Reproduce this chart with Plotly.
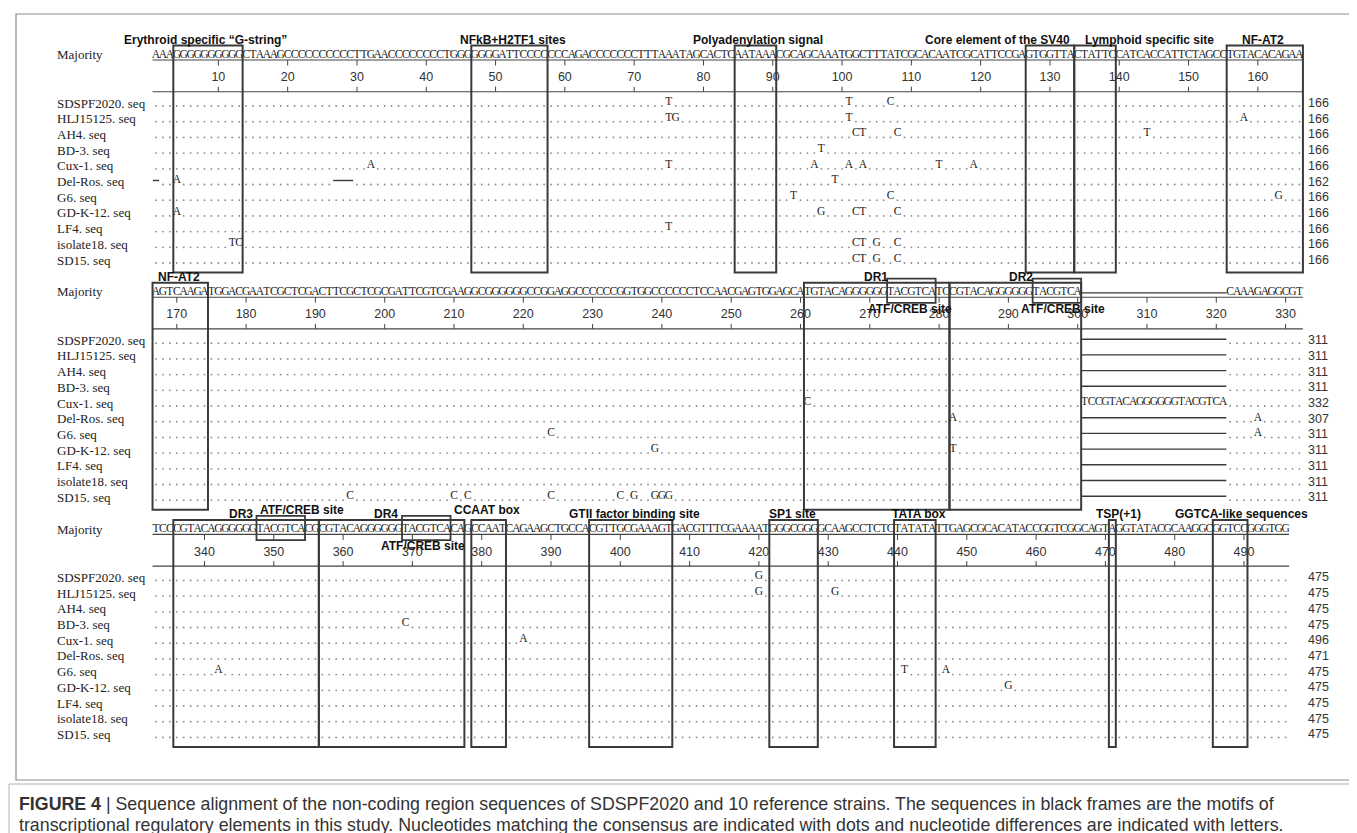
import plotly.graph_objects as go

# ---------------- data ----------------
strains = ["SDSPF2020", "HLJ15125", "AH4", "BD-3", "Cux-1", "Del-Ros", "G6",
           "GD-K-12", "LF4", "isolate18", "SD15"]
row_labels = [s + ". seq" for s in strains]

block_first = [1, 167, 333]

majority_block1 = ("AAA" "GGGGGGGGGG" "CTAAAG" "CCCCCCCCCC" "TTGAA" "CCCCCCCC" "T" "GGG"
                   "GGGGATTCCCC" "CCCAGACCCCCCCTTTAAATAGCACTC" "AATAAA"
                   "CGCAGCAAATGGCTTTATCGCACAATCGCATTCCGA" "GTGGTTA" "CTATTC"
                   "CATCACCATTCTAGCC" "TGTACACAGAA")
majority_block2 = ("AGTCAAGA" "TGGACGAATCGCTCGACTTCGCTCGCGATTCGTCGAAG"
                   "GCGGGGGGCCGGAGGCCCCCCGGTGGCCCCCCTCCAACGAGTGGAGC" "A"
                   "TGTACAGGGGGG" "TACGTCA" "TC" "CGTACAGGGGGG" "TACGTCA"
                   "---------------------" "CAAAGAGGCGT")
majority_block3 = ("TCC" "CGTACAGGGGGG" "TACGTCA" "CG" "CGTACAGGGGGG" "TACGTCA" "CAG"
                   "CCAAT" "CAGAAGCTGCCA" "CGTTGCGAAAGT" "GACGTTTCGAAAAT" "GGGCGGG"
                   "GCAAGCCTCTC" "TATATA" "TTGAGCGCACATACCGGTCGGCAGT" "A"
                   "GGTATACGCAAGGC" "GGTCC" "GGGTGG")
majority = [majority_block1, majority_block2, majority_block3]
assert [len(m) for m in majority] == [166, 166, 164]

tick_values = [[10, 20, 30, 40, 50, 60, 70, 80, 90, 100, 110, 120, 130, 140, 150, 160],
               [170, 180, 190, 200, 210, 220, 230, 240, 250, 260, 270, 280, 290, 300, 310, 320, 330],
               [340, 350, 360, 370, 380, 390, 400, 410, 420, 430, 440, 450, 460, 470, 480, 490]]

counts_block1 = [166, 166, 166, 166, 166, 162, 166, 166, 166, 166, 166]
counts_block2 = [311, 311, 311, 311, 332, 307, 311, 311, 311, 311, 311]
counts_block3 = [475, 475, 475, 475, 496, 471, 475, 475, 475, 475, 475]
counts = [counts_block1, counts_block2, counts_block3]

# (strain, position, base) differences from the consensus
variants = [
    ("SDSPF2020", 75, "T"), ("SDSPF2020", 101, "T"), ("SDSPF2020", 107, "C"),
    ("HLJ15125", 75, "T"), ("HLJ15125", 76, "G"), ("HLJ15125", 101, "T"), ("HLJ15125", 158, "A"),
    ("AH4", 102, "C"), ("AH4", 103, "T"), ("AH4", 108, "C"), ("AH4", 144, "T"),
    ("BD-3", 97, "T"),
    ("Cux-1", 32, "A"), ("Cux-1", 75, "T"), ("Cux-1", 96, "A"), ("Cux-1", 101, "A"),
    ("Cux-1", 103, "A"), ("Cux-1", 114, "T"), ("Cux-1", 119, "A"),
    ("Del-Ros", 4, "A"), ("Del-Ros", 99, "T"),
    ("G6", 93, "T"), ("G6", 107, "C"), ("G6", 163, "G"),
    ("GD-K-12", 4, "A"), ("GD-K-12", 97, "G"), ("GD-K-12", 102, "C"), ("GD-K-12", 103, "T"),
    ("GD-K-12", 108, "C"),
    ("LF4", 75, "T"),
    ("isolate18", 12, "T"), ("isolate18", 13, "C"), ("isolate18", 102, "C"),
    ("isolate18", 103, "T"), ("isolate18", 105, "G"), ("isolate18", 108, "C"),
    ("SD15", 102, "C"), ("SD15", 103, "T"), ("SD15", 105, "G"), ("SD15", 108, "C"),
    # block 2
    ("Cux-1", 261, "C"),
    ("Del-Ros", 282, "A"), ("Del-Ros", 326, "A"),
    ("G6", 224, "C"), ("G6", 326, "A"),
    ("GD-K-12", 239, "G"), ("GD-K-12", 282, "T"),
    ("SD15", 195, "C"), ("SD15", 210, "C"), ("SD15", 212, "C"), ("SD15", 224, "C"),
    ("SD15", 234, "C"), ("SD15", 236, "G"), ("SD15", 239, "G"), ("SD15", 240, "G"),
    ("SD15", 241, "G"),
    # block 3
    ("SDSPF2020", 420, "G"),
    ("HLJ15125", 420, "G"), ("HLJ15125", 431, "G"),
    ("BD-3", 369, "C"),
    ("Cux-1", 386, "A"),
    ("G6", 342, "A"), ("G6", 441, "T"), ("G6", 447, "A"),
    ("GD-K-12", 456, "G"),
]
insertion_strain = "Cux-1"
insertion_start = 301
insertion_seq = "TCCGTACAGGGGGGTACGTCA"

# (strain, first, last) alignment gaps
gap_spans = [("Del-Ros", 1, 1), ("Del-Ros", 27, 29)] + \
            [(s, 301, 321) for s in strains if s != insertion_strain]

# motif frames (first, last) and small ATF/CREB frames
motif_frames = [(4, 13), (47, 57), (85, 90), (127, 133), (134, 139), (156, 166),
                (167, 174), (261, 281), (282, 300),
                (336, 356), (357, 377), (379, 383), (396, 407), (422, 428),
                (440, 445), (471, 471), (486, 490)]
site_frames = [(273, 279), (294, 300), (348, 354), (369, 375)]

motif_labels = [
    ("Erythroid specific “G-string”", 8.2, "top"),
    ("NFkB+H2TF1 sites", 52.5, "top"),
    ("Polyadenylation signal", 87.9, "top"),
    ("Core element of the SV40", 122.5, "top"),
    ("Lymphoid specific site", 144.4, "top"),
    ("NF-AT2", 160.7, "top"),
    ("NF-AT2", 170.3, "top"),
    ("DR1", 270.9, "top"),
    ("ATF/CREB site", 275.8, "below"),
    ("DR2", 291.8, "top"),
    ("ATF/CREB site", 297.9, "below"),
    ("DR3", 345.3, "top"),
    ("ATF/CREB site", 354.0, "high"),
    ("DR4", 366.2, "top"),
    ("ATF/CREB site", 371.5, "below"),
    ("CCAAT box", 380.7, "high"),
    ("GTII factor binding site", 402.1, "top"),
    ("SP1 site", 424.8, "top"),
    ("TATA box", 443.1, "top"),
    ("TSP(+1)", 471.9, "top"),
    ("GGTCA-like sequences", 489.6, "top"),
]

caption_line1 = ("Sequence alignment of the non-coding region sequences of SDSPF2020 and 10 "
                 "reference strains. The sequences in black frames are the motifs of")
caption_line2 = ("transcriptional regulatory elements in this study. Nucleotides matching the "
                 "consensus are indicated with dots and nucleotide differences are indicated with letters.")

# ---------------- layout constants ----------------
W, H = 1357, 833
PX = 6.93          # pixels per alignment column
LEFT = 148         # pixel x of first column of each block
ROW = 15.7         # pixels per sequence row
ROW0 = [95, 332.2, 569.4]
SEQ_FONT = "Liberation Serif"
SANS = "Liberation Sans"
INK = "#222222"
LINE = "#3a3a3a"


def r(px):
    return px / ROW


MAJ_Y = r(-48.3)
UNDER_Y = r(-43.0)
TICKLAB_Y = r(-25.0)
RULER_Y = r(-11.3)
BOX_TOP = r(-57.5)
BOX_BOT = r(169.5)
SITE_TOP = r(-61.6)
SITE_BOT = r(-37.3)
LABEL_Y = {"top": r(-63.5), "high": r(-67.3), "below": r(-31.0)}
DOT_DY = r(3.0)
LET_DY = r(-1.0)

fig = go.Figure()
shapes = []
annotations = []


def block_of(pos):
    b = 0
    for i, f in enumerate(block_first):
        if pos >= f:
            b = i
    return b


def axes(b):
    return ("x" if b == 0 else f"x{b+1}"), ("y" if b == 0 else f"y{b+1}")


for b in range(3):
    xa, ya = axes(b)
    p0 = block_first[b]
    seq = majority[b]
    pend = p0 + len(seq) - 1

    # majority sequence
    mx = [p0 + i for i, c in enumerate(seq) if c != "-"]
    mt = [c for c in seq if c != "-"]
    fig.add_trace(go.Scatter(x=mx, y=[MAJ_Y] * len(mx), text=mt, mode="text",
                             textfont=dict(family=SEQ_FONT, size=11.5, color=INK),
                             xaxis=xa, yaxis=ya, hoverinfo="skip", showlegend=False))
    gap_cols = [p0 + i for i, c in enumerate(seq) if c == "-"]
    if gap_cols:
        shapes.append(dict(type="line", xref=xa, yref=ya, x0=gap_cols[0] - 0.5,
                           x1=gap_cols[-1] + 0.5, y0=MAJ_Y + r(1), y1=MAJ_Y + r(1),
                           line=dict(color=LINE, width=1.2)))
    # underline and ruler
    for yy in (UNDER_Y, RULER_Y):
        shapes.append(dict(type="line", xref=xa, yref=ya, x0=p0 - 0.5, x1=pend + 0.5,
                           y0=yy, y1=yy, line=dict(color="#444", width=1.1)))
    for t in tick_values[b]:
        shapes.append(dict(type="line", xref=xa, yref=ya, x0=t, x1=t, y0=UNDER_Y,
                           y1=UNDER_Y + r(5.5), line=dict(color="#444", width=1)))
        shapes.append(dict(type="line", xref=xa, yref=ya, x0=t, x1=t, y0=RULER_Y,
                           y1=RULER_Y - r(5.0), line=dict(color="#444", width=1)))
    fig.add_trace(go.Scatter(x=tick_values[b], y=[TICKLAB_Y] * len(tick_values[b]),
                             text=[str(t) for t in tick_values[b]], mode="text",
                             textfont=dict(family=SANS, size=12.5, color="#333"),
                             xaxis=xa, yaxis=ya, hoverinfo="skip", showlegend=False))

    # sequence rows
    dot_x, dot_y, let_x, let_y, let_t = [], [], [], [], []
    for ri, s in enumerate(strains):
        occupied = {}
        for (vs, pos, base) in variants:
            if vs == s and p0 <= pos <= pend:
                occupied[pos] = base
        if s == insertion_strain:
            for k, c in enumerate(insertion_seq):
                pos = insertion_start + k
                if p0 <= pos <= pend:
                    occupied[pos] = c
        gaps = set()
        for (gs, g0, g1) in gap_spans:
            if gs == s and p0 <= g0 <= pend:
                for pos in range(g0, g1 + 1):
                    gaps.add(pos)
                shapes.append(dict(type="line", xref=xa, yref=ya,
                                   x0=g0 - 0.45, x1=g1 + 0.45,
                                   y0=ri - r(1), y1=ri - r(1),
                                   line=dict(color=LINE, width=1.4)))
        for pos in range(p0, pend + 1):
            if pos in occupied:
                let_x.append(pos)
                let_y.append(ri + LET_DY)
                let_t.append(occupied[pos])
            elif pos not in gaps:
                dot_x.append(pos)
                dot_y.append(ri + DOT_DY)
        annotations.append(dict(xref="paper", yref=ya, x=47 / W, y=ri, text=row_labels[ri],
                                showarrow=False, xanchor="left", yanchor="middle",
                                font=dict(family=SEQ_FONT, size=13, color=INK)))
        annotations.append(dict(xref="paper", yref=ya, x=1298 / W, y=ri,
                                text=str(counts[b][ri]), showarrow=False,
                                xanchor="left", yanchor="middle",
                                font=dict(family=SANS, size=12.5, color="#333")))
    fig.add_trace(go.Scatter(x=dot_x, y=dot_y, mode="markers",
                             marker=dict(size=1.8, color="#8a8a8a"),
                             xaxis=xa, yaxis=ya, hoverinfo="skip", showlegend=False))
    fig.add_trace(go.Scatter(x=let_x, y=let_y, text=let_t, mode="text",
                             textfont=dict(family=SEQ_FONT, size=11.5, color=INK),
                             xaxis=xa, yaxis=ya, hoverinfo="skip", showlegend=False))
    annotations.append(dict(xref="paper", yref=ya, x=47 / W, y=MAJ_Y, text="Majority",
                            showarrow=False, xanchor="left", yanchor="middle",
                            font=dict(family=SEQ_FONT, size=13, color=INK)))

# motif frames
for (a, z) in motif_frames:
    xa, ya = axes(block_of(a))
    shapes.append(dict(type="rect", xref=xa, yref=ya, x0=a - 0.5, x1=z + 0.5,
                       y0=BOX_TOP, y1=BOX_BOT, line=dict(color=LINE, width=2)))
for (a, z) in site_frames:
    xa, ya = axes(block_of(a))
    shapes.append(dict(type="rect", xref=xa, yref=ya, x0=a - 0.5, x1=z + 0.5,
                       y0=SITE_TOP, y1=SITE_BOT, line=dict(color=LINE, width=1.8)))
for (txt, pos, lvl) in motif_labels:
    xa, ya = axes(block_of(int(pos)))
    annotations.append(dict(xref=xa, yref=ya, x=pos, y=LABEL_Y[lvl], text="<b>%s</b>" % txt,
                            showarrow=False, xanchor="center", yanchor="middle",
                            font=dict(family=SANS, size=12, color="#111")))

# outer frames
shapes.append(dict(type="rect", xref="paper", yref="paper", x0=8 / W, x1=1355 / W,
                   y0=1 - 772 / H, y1=1 - 6 / H, line=dict(color="#8c8c8c", width=1.2)))
shapes.append(dict(type="rect", xref="paper", yref="paper", x0=1 / W, x1=1356 / W,
                   y0=1 - 832 / H, y1=1 - 776 / H, line=dict(color="#b0b0b0", width=1)))
annotations.append(dict(xref="paper", yref="paper", x=9 / W, y=1 - 796 / H,
                        text="<b>FIGURE 4</b> | " + caption_line1, showarrow=False,
                        xanchor="left", yanchor="middle",
                        font=dict(family=SANS, size=17.8, color="#333")))
annotations.append(dict(xref="paper", yref="paper", x=9 / W, y=1 - 817 / H,
                        text=caption_line2, showarrow=False,
                        xanchor="left", yanchor="middle",
                        font=dict(family=SANS, size=17.8, color="#333")))

layout_axes = {}
for b in range(3):
    p0 = block_first[b]
    xr0 = p0 - LEFT / PX
    yt = -ROW0[b] / ROW
    yb = (H - ROW0[b]) / ROW
    xk = "xaxis" if b == 0 else f"xaxis{b+1}"
    yk = "yaxis" if b == 0 else f"yaxis{b+1}"
    xa, ya = axes(b)
    layout_axes[xk] = dict(range=[xr0, xr0 + W / PX], domain=[0, 1], visible=False,
                           anchor=ya, fixedrange=True)
    layout_axes[yk] = dict(range=[yb, yt], domain=[0, 1], visible=False,
                           anchor=xa, fixedrange=True)

fig.update_layout(width=W, height=H, margin=dict(l=0, r=0, t=0, b=0),
                  paper_bgcolor="white", plot_bgcolor="rgba(0,0,0,0)",
                  shapes=shapes, annotations=annotations, showlegend=False,
                  **layout_axes)

fig.write_html("out.html")
